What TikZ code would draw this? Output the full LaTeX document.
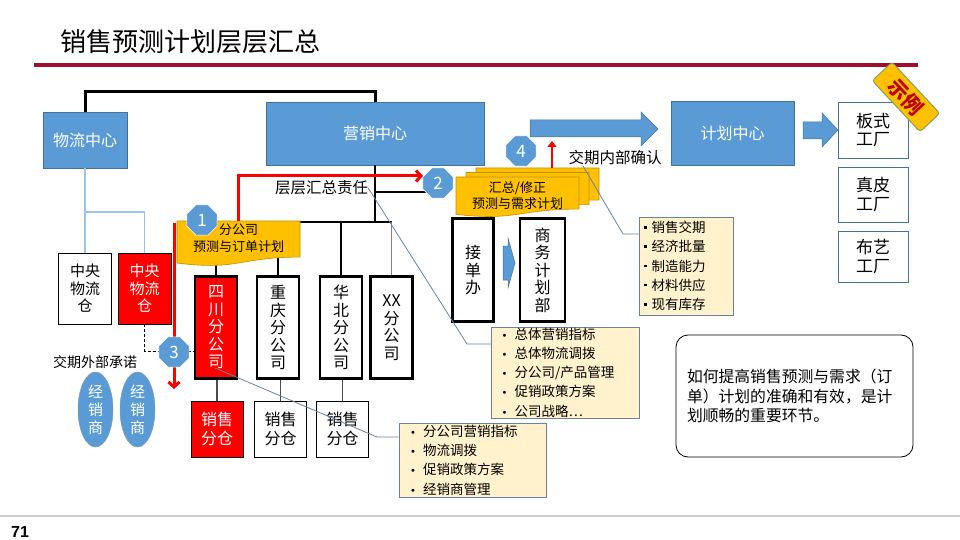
\documentclass[tikz,border=0pt]{standalone}
\usepackage{fontspec}
\setmainfont{Noto Sans CJK SC}
\newfontfamily\numfont{Liberation Sans}
\newfontfamily\symfont{DejaVu Sans}
\usetikzlibrary{shapes.geometric,arrows.meta,calc}
\definecolor{bl}{HTML}{5B9BD5}
\definecolor{bld}{HTML}{41719C}
\definecolor{ylw}{HTML}{FFC000}
\definecolor{yld}{HTML}{BF9000}
\definecolor{cream}{HTML}{FFF2CC}
\definecolor{slate}{HTML}{6683A3}
\definecolor{crim}{HTML}{A0102E}
\definecolor{lbl}{HTML}{9DC3E6}
\definecolor{tagred}{HTML}{C00000}
\definecolor{taggreen}{HTML}{7FA060}
\newcommand{\docshape}[5]{\filldraw[#1] (#2,#3) -- ({#2+#4},#3) -- ({#2+#4},{#3+0.802*#5}) .. controls ({#2+0.5*#4},{#3+0.802*#5}) and ({#2+0.5*#4},{#3+1.107*#5}) .. (#2,{#3+0.934*#5}) -- cycle;}
\newcommand{\sqb}{\makebox[7.5pt][l]{\rule[4pt]{2.6pt}{2.6pt}}}
\newcommand{\rb}{\makebox[13pt][l]{{\symfont\fontsize{10}{10}\selectfont •}}}
\tikzset{
  bluebox/.style={draw=bld, fill=bl, line width=0.8pt, text=white, font=\fontsize{16}{18}\selectfont, inner sep=0pt},
  thinbox/.style={draw=black, line width=0.8pt, inner sep=0pt, align=center, font=\fontsize{15}{17.5}\selectfont},
  thickbox/.style={draw=black, line width=2.2pt, inner sep=0pt, align=center, font=\fontsize{16}{17.5}\selectfont},
  fbox/.style={draw=bld, line width=0.8pt, inner sep=0pt, align=center, minimum width=70pt, font=\fontsize{17}{18.5}\selectfont},
  redfill/.style={fill=red, text=white},
  oct/.style={regular polygon, regular polygon sides=8, minimum size=32.5pt, fill=bl, draw=white, line width=0.5pt, text=white, font=\fontsize{17}{17}\selectfont, inner sep=0pt},
  ell/.style={ellipse, fill=bl, draw=bld!70, line width=0.5pt, text=white, minimum width=35pt, minimum height=75pt, inner sep=0pt, align=center, font=\fontsize{15}{18}\selectfont},
  banner/.style={fill=ylw, draw=yld, line width=0.6pt},
  ibox/.style={fill=cream, draw=slate, line width=0.8pt, align=left, font=\fontsize{13.5}{19.3}\selectfont},
  blk/.style={draw=black, line width=1.4pt},
  blkthick/.style={draw=black, line width=3pt},
  lbline/.style={draw=lbl, line width=1.2pt},
  dgry/.style={draw=black!70, line width=1.1pt},
  callout/.style={draw=slate, line width=0.8pt},
  redarrow/.style={draw=red, line width=3pt, -{Straight Barb[length=5pt,width=11pt]}},
  barrow/.style={fill=bl, draw=bld, line width=0.5pt},
  tag/.style={rounded corners=3pt, fill=ylw, draw=taggreen, line width=1pt, minimum width=70pt, minimum height=27pt, text=tagred, font=\bfseries\fontsize{20}{20}\selectfont, inner sep=0pt},
  plain/.style={inner sep=0pt}
}
\begin{document}
\begin{tikzpicture}[x=1pt,y=-1pt]
\useasboundingbox (0,0) rectangle (960,540);
\fill[white] (0,0) rectangle (960,540);

% title
\node[plain, anchor=west, font=\fontsize{26}{30}\selectfont] (title) at (60,42) {销售预测计划层层汇总};
\coordinate (rl1) at (34,65); \coordinate (rl2) at (918,65);
\draw[crim, line width=3.5pt] (rl1) -- (rl2);
\coordinate (gl1) at (0,516); \coordinate (gl2) at (960,516);
\draw[black!20, line width=1.5pt] (gl1) -- (gl2);
\node[plain, anchor=west, font=\numfont\bfseries\fontsize{16}{16}\selectfont] (pg) at (11,532) {71};

% coordinates for lines
\coordinate (topy) at (0,92);
\coordinate (bry) at (0,222);
\coordinate (lby) at (0,212);
\coordinate (hz) at (375,192);
\coordinate (dy) at (0,351);

% main boxes
\node[bluebox, minimum width=84pt, minimum height=56pt] (wl) at (85,140) {物流中心};
\node[bluebox, minimum width=218pt, minimum height=63pt] (yx) at (375,133.5) {营销中心};
\node[bluebox, minimum width=123pt, minimum height=64pt] (jh) at (732.5,133) {计划中心};

% central warehouses
\node[thinbox, minimum width=53pt, minimum height=71pt] (c1) at (85,288.5) {中央\\物流\\仓};
\node[thinbox, redfill, minimum width=53pt, minimum height=71pt] (c2) at (144.5,288.5) {中央\\物流\\仓};

% branches
\node[thickbox, redfill, minimum width=42pt, minimum height=102pt] (b1) at (216,327.5) {四\\川\\分\\公\\司};
\node[thickbox, minimum width=42pt, minimum height=102pt] (b2) at (278,327.5) {重\\庆\\分\\公\\司};
\node[thickbox, minimum width=42pt, minimum height=102pt] (b3) at (341,327.5) {华\\北\\分\\公\\司};
\node[thickbox, minimum width=42pt, minimum height=102pt] (b4) at (391.5,327.5) {XX\\分\\公\\司};

% sub warehouses
\node[thinbox, redfill, minimum width=52pt, minimum height=56pt, font=\fontsize{16}{19}\selectfont] (w1) at (217,429) {销售\\分仓};
\node[thinbox, minimum width=52pt, minimum height=56pt, font=\fontsize{16}{19}\selectfont] (w2) at (280.5,429) {销售\\分仓};
\node[thinbox, minimum width=52pt, minimum height=56pt, font=\fontsize{16}{19}\selectfont] (w3) at (342.5,429) {销售\\分仓};

% tree lines
\draw[blkthick] (wl.north) -- (wl.north |- topy) -| (yx.north);
\draw[blk] (yx.south) -- (yx.south |- bry);
\draw[blk] (b1.north |- bry) -- (b4.north |- bry);
\draw[blk] (b1.north |- bry) -- (b1.north);
\draw[blk] (b2.north |- bry) -- (b2.north);
\draw[blk] (b3.north |- bry) -- (b3.north);
\draw[draw=black!50, line width=1.4pt] (b4.north |- bry) -- (b4.north);
\draw[blk] (hz) -- (438,192);
\draw[lbline] (wl.south) -- (wl.south |- lby) -| (c2.north);
\draw[lbline] (wl.south |- lby) -- (c1.north);
\draw[dgry] (w1.north) -- (w1.north |- b1.south);
\draw[dgry] (w2.north) -- (w2.north |- b2.south);
\draw[dgry] (w3.north) -- (w3.north |- b3.south);
\draw[black, line width=0.8pt, dash pattern=on 3pt off 2pt] (c2.south) |- (b1.west |- dy);

% dealers
\node[plain, font=\fontsize{14}{14}\selectfont] (wt) at (95,362) {交期外部承诺};
\node[ell] (e1) at (95.5,409.5) {经\\销\\商};
\node[ell] (e2) at (137.5,409.5) {经\\销\\商};

% red arrows 1 and 3
\coordinate (r1s) at (174,223); \coordinate (r1e) at (174,389);
\draw[redarrow] (r1s) -- (r1e);

% banner 1
\docshape{banner}{177}{221}{123}{45}
\node[plain, align=center, font=\fontsize{13}{17}\selectfont] (t1) at (238.5,238.5) {分公司\\预测与订单计划};
\coordinate (r2s) at (238,221); \coordinate (r2e) at (423,176);
\draw[redarrow] (r2s) |- (r2e);

% label
\node[plain, font=\fontsize{15.5}{15.5}\selectfont] (lt) at (321.5,188) {层层汇总责任};

% order office
\node[thickbox, minimum width=41pt, minimum height=103pt] (jd) at (473,270) {接\\单\\办};
\node[thickbox, minimum width=45pt, minimum height=103pt] (sw) at (542.5,270) {商\\务\\计\\划\\部};
\filldraw[barrow] (503,246) -- (508,246) -- (508,238) -- (515,263) -- (508,288) -- (508,280) -- (503,280) -- cycle;

% banner 2 stack
\docshape{banner}{476}{168}{123}{40}
\docshape{banner}{466}{172.5}{123}{40}
\docshape{banner}{456}{177}{123}{40}
\node[plain, align=center, font=\fontsize{13}{15.5}\selectfont] (t2) at (517.5,195.5) {汇总/修正\\预测与需求计划};
\coordinate (r4s) at (552,168); \coordinate (r4e) at (552,141);
\draw[draw=red, line width=2.5pt, -{Triangle[length=6pt,width=9pt]}] (r4s) -- (r4e);
\node[plain, font=\fontsize{15.5}{15.5}\selectfont] (jt) at (615,158) {交期内部确认};

% block arrows
\filldraw[barrow] (530,120) -- (641,120) -- (641,112) -- (658,129) -- (641,146) -- (641,137) -- (530,137) -- cycle;
\filldraw[barrow] (803,122) -- (822,122) -- (822,113) -- (838,130) -- (822,147) -- (822,139) -- (803,139) -- cycle;

% factories
\node[fbox, minimum height=56pt] (f1) at (873,130) {板式\\工厂};
\node[fbox, minimum height=55pt] (f2) at (873,194.5) {真皮\\工厂};
\node[fbox, minimum height=51pt] (f3) at (873,256.5) {布艺\\工厂};
\node[tag, rotate=-47] (ex) at (906,97) {示例};

% info boxes
\node[ibox, minimum width=94pt, minimum height=98pt, text width=84pt, inner xsep=5pt, inner ysep=0pt] (ib1) at (686,266)
  {\sqb 销售交期\\\sqb 经济批量\\\sqb 制造能力\\\sqb 材料供应\\\sqb 现有库存};
\node[ibox, minimum width=148pt, minimum height=91pt, text width=128pt, inner xsep=10pt, inner ysep=0pt] (ib2) at (565.5,372.5)
  {\rb 总体营销指标\\\rb 总体物流调拨\\\rb 分公司/产品管理\\\rb 促销政策方案\\\rb 公司战略…};
\node[ibox, minimum width=147pt, minimum height=74pt, text width=125pt, inner xsep=11pt, inner ysep=0pt] (ib3) at (472.5,460)
  {\rb 分公司营销指标\\\rb 物流调拨\\\rb 促销政策方案\\\rb 经销商管理};

% callouts
\coordinate (k1) at (467,344);
\draw[callout] (lt.east) -- (k1) -- (k1 -| ib2.west);
\coordinate (k2s) at (583,166); \coordinate (k2) at (623,234);
\draw[callout] (k2s) -- (k2) -- (k2 -| ib1.west);
\coordinate (k3s) at (215,368); \coordinate (k3) at (377,437);
\draw[callout] (k3s) -- (k3) -- (k3 -| ib3.west);

% octagons
\node[oct] (o1) at (202,220) {1};
\node[oct] (o2) at (438,183) {2};
\node[oct] (o3) at (174,352) {3};
\node[oct] (o4) at (521,151) {4};

% note
\node[draw=black, line width=0.8pt, rounded corners=12pt, minimum width=237pt, minimum height=122pt, text width=215pt, inner xsep=11pt, align=left, font=\fontsize{15.8}{19.8}\selectfont] (nt) at (794.5,396)
  {如何提高销售预测与需求（订\\单）计划的准确和有效，是计\\划顺畅的重要环节。};
\end{tikzpicture}
\end{document}
